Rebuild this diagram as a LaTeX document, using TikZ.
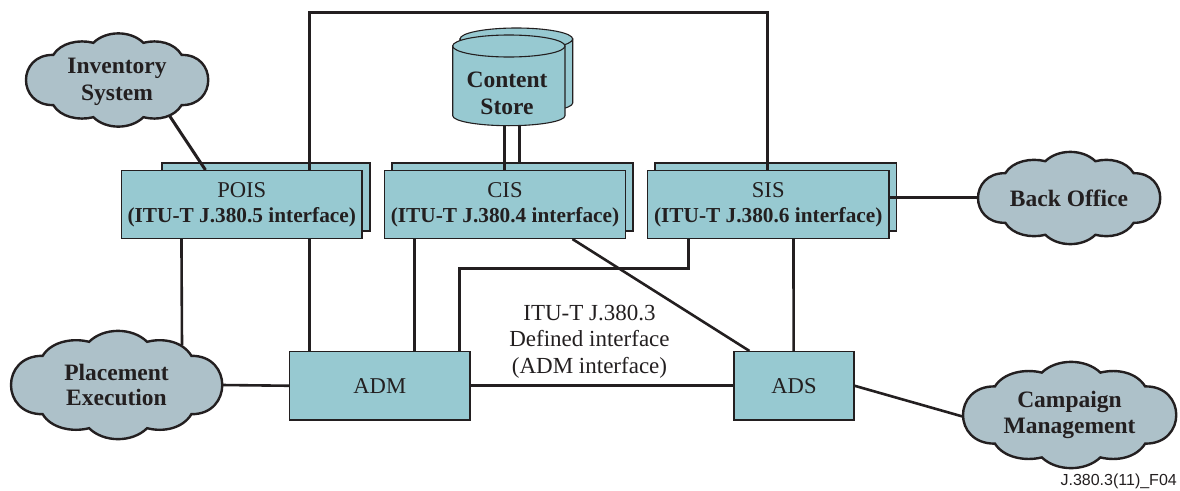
\documentclass[tikz,border=0pt]{standalone}
\usepackage{fontspec}
\setmainfont{Liberation Serif}
\newfontfamily\footfont{Liberation Sans}
\usetikzlibrary{backgrounds}
\pgfdeclarelayer{behind}
\pgfdeclarelayer{wires}
\pgfsetlayers{behind,wires,main}
\definecolor{boxfill}{HTML}{97C9D1}
\definecolor{cloudfill}{HTML}{ADC1C9}
\definecolor{ink}{HTML}{231F20}
\newcommand{\smallbold}[1]{{\fontsize{21.3}{25}\selectfont\bfseries #1}}
\tikzset{
  box/.style={draw=ink,line width=1.1pt,fill=boxfill,rectangle,inner sep=0pt,align=center,text=ink,font=\fontsize{22.6}{25}\selectfont},
  label text/.style={align=center,text=ink,inner sep=0pt,font=\fontsize{23}{26.5}\selectfont},
  cloud text/.style={align=center,text=ink,inner sep=0pt,font=\fontsize{23.5}{27}\selectfont\bfseries},
  cloud line/.style={draw=ink,line width=2.4pt,fill=cloudfill},
  wire/.style={draw=ink,line width=3pt},
  thin wire/.style={draw=ink,line width=2.6pt},
  drum/.style={draw=ink,line width=1.1pt,fill=boxfill},
}
% [#1 text offset], #2 name, #3 cx, #4 cy, #5 half width, #6 half height, #7 text
\newcommand{\cloudnode}[7][0pt]{%
  \begin{scope}[shift={(#3,#4)},x=#5pt,y=-#6pt]
    \path[cloud line] (-.70,-.54)
      .. controls (-.62,-.80) and (-.42,-.88) .. (-.26,-.80)
      .. controls (-.12,-1.07) and (.15,-1.07) .. (.29,-.80)
      .. controls (.45,-.88) and (.63,-.80) .. (.71,-.54)
      .. controls (1.10,-.55) and (1.10,.55) .. (.71,.54)
      .. controls (.63,.80) and (.45,.88) .. (.29,.80)
      .. controls (.15,1.07) and (-.12,1.07) .. (-.26,.80)
      .. controls (-.42,.88) and (-.62,.80) .. (-.70,.54)
      .. controls (-1.10,.55) and (-1.10,-.55) .. (-.70,-.54) -- cycle;
  \end{scope}
  \node[cloud text,yshift=#1] (#2) at (#3,#4) {#7};
}
\begin{document}
\begin{tikzpicture}[x=1pt,y=-1pt]
\useasboundingbox (0,0) rectangle (1180,490);

% stacked back sheets
\begin{pgfonlayer}{behind}
  \node[box,minimum width=208pt,minimum height=68pt] (poisback) at (266,197) {};
  \node[box,minimum width=241pt,minimum height=68pt] (cisback) at (512.5,197) {};
  \node[box,minimum width=241.5pt,minimum height=68pt] (sisback) at (775.75,197) {};
\end{pgfonlayer}

% front boxes
\node[box,minimum width=240.5pt,minimum height=68pt] (pois) at (241.75,204.5) {POIS\\\smallbold{(ITU-T J.380.5 interface)}};
\node[box,minimum width=241pt,minimum height=68pt] (cis) at (505,204.5) {CIS\\\smallbold{(ITU-T J.380.4 interface)}};
\node[box,minimum width=241.5pt,minimum height=68pt] (sis) at (768.25,204.5) {SIS\\\smallbold{(ITU-T J.380.6 interface)}};
\node[box,minimum width=180.5pt,minimum height=68.5pt] (adm) at (379.75,385.75) {ADM};
\node[box,minimum width=120pt,minimum height=68.5pt] (ads) at (794,385.75) {ADS};

% content store
\path[drum] (460,39) -- (460,103) arc[start angle=180,end angle=0,x radius=56.35,y radius=10] -- (572.7,39) -- cycle;
\path[drum] (516.35,39) ellipse [x radius=56.35,y radius=11];
\path[drum] (452.7,46) -- (452.7,115.7) arc[start angle=180,end angle=0,x radius=56.15,y radius=10] -- (565,46) -- cycle;
\path[drum] (508.85,46) ellipse [x radius=56.15,y radius=11];
\node[cloud text] (store) at (507,93) {Content\\Store};

% clouds
\cloudnode[-1.5pt]{inv}{117}{80}{91}{46.5}{Inventory\\System}
\cloudnode{place}{116.5}{385}{105.5}{54}{Placement\\[-1.5pt]Execution}
\cloudnode{back}{1069}{198}{91}{46}{Back Office}
\cloudnode{camp}{1069.5}{415}{106.5}{53}{Campaign\\[-1.5pt]Management}

% interface label and figure tag
\node[label text] (adminfo) at (589.5,341.5) {ITU-T J.380.3\\Defined interface\\(ADM interface)};
\node[anchor=east,inner sep=0pt,text=ink,font=\footfont\fontsize{16}{18}\selectfont] (tag) at (1177,481.5) {J.380.3(11)\_F04};

% connectors
\begin{pgfonlayer}{wires}
  \draw[wire] ([xshift=188.5pt]pois.north west) -- ++(0,-157.5) -| ([xshift=120.5pt]sis.north west);
  \draw[wire] (169,115) -- ([xshift=84.5pt]pois.north west);
  \draw[wire] ([xshift=120.5pt]cis.north west) -- ([xshift=120.5pt,yshift=0pt]cis.north west |- store.south);
  \draw[wire] (519.7,125) -- (519.7,163);
  \draw[thin wire] ([xshift=60.5pt]pois.south west) -- (182,345);
  \draw[wire] ([xshift=188.5pt]pois.south west) -- ([xshift=20.5pt]adm.north west);
  \draw[wire] ([xshift=30.5pt]cis.south west) -- ([xshift=125.5pt]adm.north west);
  \draw[wire] ([xshift=42pt]sis.south west) -- ++(0,29) -| ([xshift=170.5pt]adm.north west);
  \draw[thin wire] ([xshift=188.5pt]cis.south west) -- ([xshift=16pt]ads.north west);
  \draw[thin wire] ([xshift=146.5pt]sis.south west) -- ([xshift=60.2pt]ads.north west);
  \draw[thin wire] (sis.east |- 0,197.7) -- (978,197.7);
  \draw[thin wire] (222,385) -- (adm.west);
  \draw[wire] (adm.east) -- (ads.west);
  \draw[thin wire] (ads.east) -- (963.3,416.7);
\end{pgfonlayer}
\end{tikzpicture}
\end{document}
